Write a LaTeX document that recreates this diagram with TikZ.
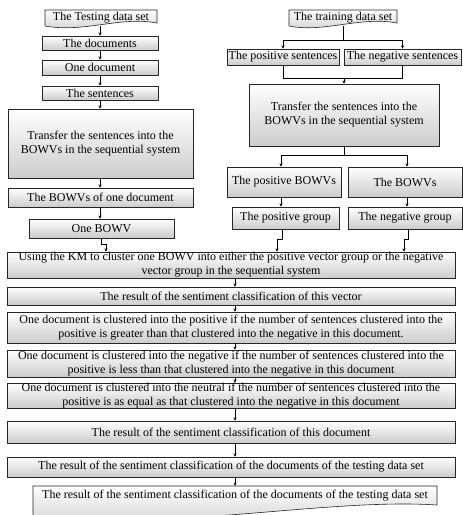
\documentclass[tikz,border=0pt]{standalone}
\usepackage{fontspec}
\setmainfont{Liberation Serif}
\usetikzlibrary{arrows.meta}

\tikzset{
  box/.style={draw=black!85, line width=0.6pt, top color=white, bottom color=black!20,
              inner sep=0pt, align=center, font=\fontsize{12}{14}\selectfont},
  doctext/.style={inner sep=0pt, align=center, font=\fontsize{12}{14}\selectfont},
  docshape/.style={draw=black!85, line width=0.6pt, top color=white, bottom color=black!20},
  link/.style={line width=0.6pt, draw=black},
  arr/.style={link, -{Stealth[length=3.2pt,width=3pt]}},
}

\begin{document}
\begin{tikzpicture}[x=1pt, y=-1pt]
\clip (0,0) rectangle (463,515);
\fill[white] (0,0) rectangle (463,515);

% document-shaped outlines for the two data sets and the final output
\shadedraw[docshape] (45,10) -- (157,10) -- (157,23)
  .. controls (120,16) and (85,33) .. (45,26) -- cycle;
\shadedraw[docshape] (289,10) -- (397,10) -- (397,23)
  .. controls (360,16) and (325,33) .. (289,26) -- cycle;
\shadedraw[docshape] (33,486) -- (437,486) -- (437,505)
  .. controls (330,498) and (180,530) .. (33,518) -- cycle;

\node[doctext, minimum width=112, minimum height=16] (testdoc) at (101,18) {The Testing data set};
\node[doctext, minimum width=108, minimum height=16] (traindoc) at (343,18) {The training data set};
\node[doctext, minimum width=404, minimum height=20] (final) at (235,496) {The result of the sentiment classification of the documents of the testing data set};

% testing branch
\node[box, minimum width=116, minimum height=14] (docs) at (100,43) {The documents};
\node[box, minimum width=116, minimum height=15] (onedoc) at (100,67.5) {One document};
\node[box, minimum width=116, minimum height=14] (sents) at (100,93) {The sentences};
\node[box, minimum width=185, minimum height=69] (transL) at (100.5,143.5)
  {Transfer the sentences into the\\BOWVs in the sequential system};
\node[box, minimum width=185, minimum height=19] (bowvdoc) at (100.5,197.5) {The BOWVs of one document};
\node[box, minimum width=145, minimum height=19] (onebowv) at (101.5,228.5) {One BOWV};

% training branch
\node[box, minimum width=112, minimum height=16] (possent) at (283,57) {The positive sentences};
\node[box, minimum width=117, minimum height=16] (negsent) at (402.5,57) {The negative sentences};
\node[box, minimum width=190, minimum height=62] (transR) at (344,115)
  {Transfer the sentences into the\\BOWVs in the sequential system};
\node[box, minimum width=114, minimum height=30] (posbowv) at (284,182) {The positive BOWVs};
\node[box, minimum width=114, minimum height=30] (bowvs) at (405,182) {The BOWVs};
\node[box, minimum width=107, minimum height=22] (posgrp) at (285.5,218) {The positive group};
\node[box, minimum width=114, minimum height=22] (neggrp) at (405,218) {The negative group};

% classification chain
\node[box, minimum width=448, minimum height=26] (km) at (231,265)
  {Using the KM to cluster one BOWV into either the positive vector group or the negative\\vector group in the sequential system};
\node[box, minimum width=448, minimum height=18] (vec) at (231,296)
  {The result of the sentiment classification of this vector};
\node[box, minimum width=448, minimum height=31] (pos) at (231,327.5)
  {One document is clustered into the positive if the number of sentences clustered into the\\positive is greater than that clustered into the negative in this document.};
\node[box, minimum width=448, minimum height=27] (neg) at (231,363.5)
  {One document is clustered into the negative if the number of sentences clustered into the\\positive is less than that clustered into the negative in this document};
\node[box, minimum width=448, minimum height=25] (neu) at (231,395.5)
  {One document is clustered into the neutral if the number of sentences clustered into the\\positive is as equal as that clustered into the negative in this document};
\node[box, minimum width=448, minimum height=22] (resdoc) at (231,432)
  {The result of the sentiment classification of this document};
\node[box, minimum width=448, minimum height=20] (restest) at (231,467)
  {The result of the sentiment classification of the documents of the testing data set};

% routing points
\coordinate (spine) at (235,0);
\coordinate (lcol) at (100,0);
\coordinate (split1) at (343,40);
\coordinate (merge1) at (344,78);
\coordinate (split2) at (344,155);
\coordinate (jogL) at (101,244);
\coordinate (jogA) at (282,239);
\coordinate (jogB) at (408,239);

% testing branch connectors
\draw[arr] (testdoc.south -| lcol) -- (docs.north -| lcol);
\draw[arr] (docs.south -| lcol) -- (onedoc.north -| lcol);
\draw[arr] (onedoc.south -| lcol) -- (sents.north -| lcol);
\draw[arr] (sents.south -| lcol) -- (transL.north -| lcol);
\draw[arr] (transL.south -| lcol) -- (bowvdoc.north -| lcol);
\draw[arr] (bowvdoc.south -| lcol) -- (onebowv.north -| lcol);
\draw[arr] (onebowv.south -| jogL) -- (jogL) -- ++(5,0) -- (km.north -| 106,0);

% training branch connectors
\draw[link] (traindoc.south) -- (split1);
\draw[arr] (split1) -| (possent.north);
\draw[arr] (split1) -| (negsent.north);
\draw[link] (possent.south) |- (merge1);
\draw[link] (negsent.south) |- (merge1);
\draw[arr] (merge1) -- (transR.north);
\draw[link] (transR.south) -- (split2);
\draw[arr] (split2) -| (posbowv.north -| 281,0);
\draw[arr] (split2) -| (bowvs.north -| 407,0);
\draw[arr] (posbowv.south -| 281,0) -- (posgrp.north -| 281,0);
\draw[arr] (bowvs.south -| 407,0) -- (neggrp.north -| 407,0);
\draw[arr] (posgrp.south -| jogA) -- (jogA) -- ++(-5,0) -- (km.north -| 277,0);
\draw[arr] (neggrp.south -| jogB) -- (jogB) -- ++(-4,0) -- (km.north -| 404,0);

% classification chain connectors
\draw[arr] (km.south -| spine) -- (vec.north -| spine);
\draw[arr] (vec.south -| spine) -- (pos.north -| spine);
\draw[arr] (pos.south -| spine) -- (neg.north -| spine);
\draw[arr] (neg.south -| spine) -- (neu.north -| spine);
\draw[arr] (neu.south -| spine) -- (resdoc.north -| spine);
\draw[arr] (resdoc.south -| spine) -- (restest.north -| spine);
\draw[arr] (restest.south -| spine) -- (final.north -| spine);
\end{tikzpicture}
\end{document}
